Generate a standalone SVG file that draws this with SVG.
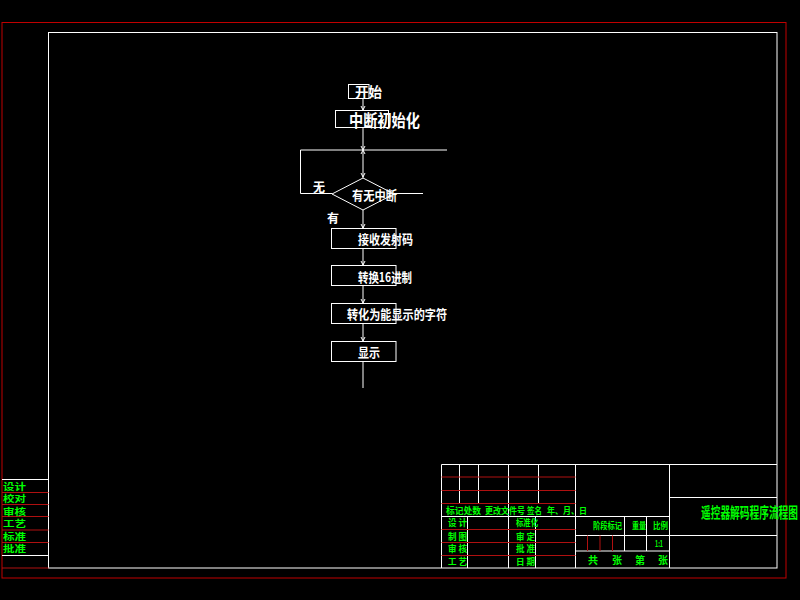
<svg xmlns="http://www.w3.org/2000/svg" width="800" height="600" viewBox="0 0 800 600">
<style>
.w{stroke:#fff;stroke-width:1;fill:none}
.r{stroke:#c00000;stroke-width:1;fill:none}
.rl{stroke:#b01010;stroke-width:1;fill:none}
.t{fill:#fff;font-family:"Noto Sans CJK SC","Noto Sans",sans-serif;font-weight:bold}
.g{fill:#00ff00;font-family:"Noto Sans CJK SC","Noto Sans",sans-serif;font-weight:bold;font-size:9px}
.a{stroke:#fff;stroke-width:1;fill:none}
</style>
<rect x="0" y="0" width="800" height="600" fill="#000"/>
<g id="frame">
<rect class="r" x="2" y="22.5" width="784" height="555.5"/>
<rect class="w" x="48.5" y="32.5" width="728.5" height="535.5"/>
</g>
<g id="side-block">
<line class="w" x1="2" y1="479.5" x2="48.5" y2="479.5"/>
<line class="rl" x1="2" y1="492.5" x2="48.5" y2="492.5"/>
<line class="rl" x1="2" y1="504.5" x2="48.5" y2="504.5"/>
<line class="rl" x1="2" y1="516.5" x2="48.5" y2="516.5"/>
<line class="rl" x1="2" y1="530" x2="48.5" y2="530"/>
<line class="rl" x1="2" y1="542.5" x2="48.5" y2="542.5"/>
<line class="w" x1="2" y1="555.5" x2="48.5" y2="555.5"/>
<line class="rl" x1="2" y1="568" x2="48.5" y2="568"/>
<text class="g" x="3" y="489.5" textLength="23" lengthAdjust="spacingAndGlyphs">设计</text>
<text class="g" x="3" y="502" textLength="23" lengthAdjust="spacingAndGlyphs">校对</text>
<text class="g" x="3" y="514.5" textLength="23" lengthAdjust="spacingAndGlyphs">审核</text>
<text class="g" x="3" y="527" textLength="23" lengthAdjust="spacingAndGlyphs">工艺</text>
<text class="g" x="3" y="539.5" textLength="23" lengthAdjust="spacingAndGlyphs">标准</text>
<text class="g" x="3" y="552" textLength="23" lengthAdjust="spacingAndGlyphs">批准</text>
</g>
<g id="title-block">
<line class="w" x1="441.5" y1="464.5" x2="777" y2="464.5"/>
<line class="w" x1="441.5" y1="464.5" x2="441.5" y2="568"/>
<line class="w" x1="459.5" y1="464.5" x2="459.5" y2="503"/>
<line class="w" x1="478.5" y1="464.5" x2="478.5" y2="503"/>
<line class="w" x1="508.5" y1="464.5" x2="508.5" y2="568"/>
<line class="w" x1="538.5" y1="464.5" x2="538.5" y2="503"/>
<line class="w" x1="575.5" y1="464.5" x2="575.5" y2="568"/>
<line class="w" x1="669.5" y1="464.5" x2="669.5" y2="568"/>
<line class="rl" x1="441.5" y1="477" x2="575.5" y2="477"/>
<line class="rl" x1="441.5" y1="490.5" x2="575.5" y2="490.5"/>
<line class="rl" x1="441.5" y1="503.5" x2="575.5" y2="503.5"/>
<line class="w" x1="441.5" y1="516.5" x2="669.5" y2="516.5"/>
<line class="w" x1="467.5" y1="516.5" x2="467.5" y2="568"/>
<line class="w" x1="535.5" y1="516.5" x2="535.5" y2="568"/>
<line class="rl" x1="441.5" y1="529.5" x2="575.5" y2="529.5"/>
<line class="rl" x1="441.5" y1="542.5" x2="575.5" y2="542.5"/>
<line class="rl" x1="441.5" y1="555.5" x2="575.5" y2="555.5"/>
<line class="w" x1="575.5" y1="535.5" x2="669.5" y2="535.5"/>
<line class="w" x1="575.5" y1="551" x2="669.5" y2="551"/>
<line class="w" x1="624.5" y1="516.5" x2="624.5" y2="551"/>
<line class="w" x1="646.5" y1="516.5" x2="646.5" y2="551"/>
<line class="rl" x1="587.5" y1="535.5" x2="587.5" y2="551"/>
<line class="rl" x1="600" y1="535.5" x2="600" y2="551"/>
<line class="rl" x1="612.5" y1="535.5" x2="612.5" y2="551"/>
<line class="w" x1="669.5" y1="497.5" x2="777" y2="497.5"/>
<line class="w" x1="669.5" y1="535.5" x2="777" y2="535.5"/>
<text class="g" x="446" y="513.5" textLength="35" lengthAdjust="spacingAndGlyphs">标记处数</text>
<text class="g" x="485" y="513.5" textLength="40" lengthAdjust="spacingAndGlyphs">更改文件号</text>
<text class="g" x="527" y="513.5" textLength="15" lengthAdjust="spacingAndGlyphs">签名</text>
<text class="g" x="547" y="513.5" textLength="40" lengthAdjust="spacingAndGlyphs">年、月、日</text>
<text class="g" x="448" y="526" textLength="19" lengthAdjust="spacingAndGlyphs">设 计</text>
<text class="g" x="448" y="539.5" textLength="19" lengthAdjust="spacingAndGlyphs">制 图</text>
<text class="g" x="448" y="552" textLength="19" lengthAdjust="spacingAndGlyphs">审 核</text>
<text class="g" x="448" y="565" textLength="19" lengthAdjust="spacingAndGlyphs">工 艺</text>
<text class="g" x="516" y="526" textLength="22" lengthAdjust="spacingAndGlyphs">标准化</text>
<text class="g" x="516" y="539.5" textLength="19" lengthAdjust="spacingAndGlyphs">审 定</text>
<text class="g" x="516" y="552" textLength="19" lengthAdjust="spacingAndGlyphs">批 准</text>
<text class="g" x="516" y="565" textLength="19" lengthAdjust="spacingAndGlyphs">日 期</text>
<text class="g" x="593" y="529" textLength="29" lengthAdjust="spacingAndGlyphs">阶段标记</text>
<text class="g" x="632" y="529" textLength="14" lengthAdjust="spacingAndGlyphs">重量</text>
<text class="g" x="653" y="529" textLength="15" lengthAdjust="spacingAndGlyphs">比例</text>
<text class="g" x="655" y="547" textLength="8" lengthAdjust="spacingAndGlyphs">1:1</text>
<text class="g" style="font-size:10px" x="588" y="564">共</text>
<text class="g" style="font-size:10px" x="612" y="564">张</text>
<text class="g" style="font-size:10px" x="635" y="564">第</text>
<text class="g" style="font-size:10px" x="658" y="564">张</text>
<text class="g" style="font-size:15px" x="701" y="518" textLength="97" lengthAdjust="spacingAndGlyphs">遥控器解码程序流程图</text>
</g>
<g id="connectors">
<line class="w" x1="363" y1="98.5" x2="363" y2="110.5"/>
<line class="w" x1="363" y1="127.5" x2="363" y2="178"/>
<line class="w" x1="300.5" y1="150" x2="447" y2="150"/>
<polyline class="w" points="300.5,150 300.5,193.5 332,193.5"/>
<line class="w" x1="394" y1="193.5" x2="423" y2="193.5"/>
<line class="w" x1="363" y1="210" x2="363" y2="228.5"/>
<line class="w" x1="363" y1="248.5" x2="363" y2="265.5"/>
<line class="w" x1="363" y1="285.5" x2="363" y2="303.5"/>
<line class="w" x1="363" y1="323.5" x2="363" y2="341.5"/>
<line class="w" x1="363" y1="361.5" x2="363" y2="388"/>
<polyline class="a" points="361,106 363,110 365,106"/>
<polyline class="a" points="361,146 363,150 365,146"/>
<polyline class="a" points="361,154 363,150 365,154"/>
<polyline class="a" points="361,173 363,177 365,173"/>
<polyline class="a" points="361,224 363,228 365,224"/>
<polyline class="a" points="361,261 363,265 365,261"/>
<polyline class="a" points="361,299 363,303 365,299"/>
<polyline class="a" points="361,337 363,341 365,337"/>
</g>
<g id="start">
<rect class="w" x="348.5" y="84.5" width="20.5" height="14"/>
<text class="t" x="355" y="97" font-size="14" textLength="27" lengthAdjust="spacingAndGlyphs">开始</text>
</g>
<g id="init">
<rect class="w" x="335.5" y="110.5" width="53" height="17"/>
<text class="t" x="349" y="127" font-size="17" textLength="71" lengthAdjust="spacingAndGlyphs">中断初始化</text>
</g>
<g id="decision">
<polygon class="w" points="363,178 394,194 363,210 332,194"/>
<text class="t" x="352" y="200" font-size="13" textLength="45" lengthAdjust="spacingAndGlyphs">有无中断</text>
<text class="t" x="313" y="192" font-size="12">无</text>
<text class="t" x="327" y="223" font-size="12">有</text>
</g>
<g id="receive">
<rect class="w" x="331.5" y="228.5" width="64.5" height="20"/>
<text class="t" x="358" y="244" font-size="13" textLength="55" lengthAdjust="spacingAndGlyphs">接收发射码</text>
</g>
<g id="convert16">
<rect class="w" x="331.5" y="265.5" width="64.5" height="20"/>
<text class="t" x="358" y="282" font-size="13" textLength="54" lengthAdjust="spacingAndGlyphs">转换16进制</text>
</g>
<g id="convertchar">
<rect class="w" x="331.5" y="303.5" width="64.5" height="20"/>
<text class="t" x="347" y="319" font-size="13" textLength="100" lengthAdjust="spacingAndGlyphs">转化为能显示的字符</text>
</g>
<g id="display">
<rect class="w" x="331.5" y="341.5" width="64.5" height="20"/>
<text class="t" x="358" y="357" font-size="13" textLength="22" lengthAdjust="spacingAndGlyphs">显示</text>
</g>
</svg>
